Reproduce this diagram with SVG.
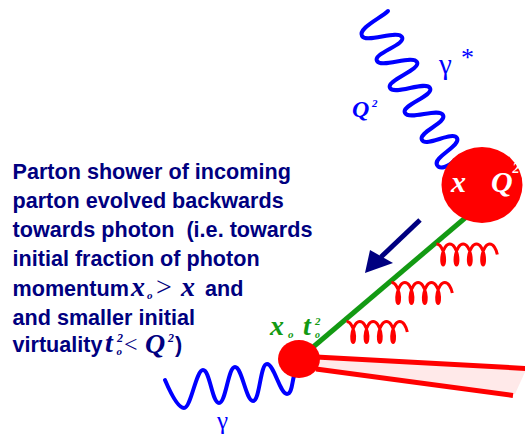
<svg xmlns="http://www.w3.org/2000/svg" width="525" height="443" viewBox="0 0 525 443">
<style>
.txt{font-family:"Liberation Sans",Arial,sans-serif;font-weight:bold;font-size:21.6px;fill:#000080}
.m{font-family:"Liberation Serif","Times New Roman",serif;font-weight:bold;font-style:italic}
.sym{font-family:"Liberation Serif","Times New Roman",serif}
.photon{fill:none;stroke:#0000ff;stroke-width:4;stroke-linecap:round;stroke-linejoin:round}
.gluon{fill:none;stroke:#ff0000;stroke-width:3}
.parton{stroke:#139a13;stroke-width:5}
.jet{stroke:#ff0000;stroke-width:5}
.blob{fill:#ff0000}
.blue{fill:#0000ff}
.green{fill:#139a13}
.white{fill:#ffffff}
.navy{fill:#000080}
</style>
<defs>
<path id="gl" class="gluon" d="M0,0
c1.655,0 3.302,1.131 4.635,3.075 c1.333,1.944 2.34,4.676 2.895,7.425 c0.555,2.749 0.658,5.481 0.435,7.425 c-0.223,1.944 -0.76,3.075 -1.305,3.075 c-0.545,0 -1.082,-1.131 -1.305,-3.075 c-0.223,-1.944 -0.12,-4.676 0.435,-7.425 c0.555,-2.749 1.562,-5.481 2.895,-7.425 c1.333,-1.944 2.98,-3.075 4.635,-3.075
c1.655,0 3.302,1.131 4.635,3.075 c1.333,1.944 2.34,4.676 2.895,7.425 c0.555,2.749 0.658,5.481 0.435,7.425 c-0.223,1.944 -0.76,3.075 -1.305,3.075 c-0.545,0 -1.082,-1.131 -1.305,-3.075 c-0.223,-1.944 -0.12,-4.676 0.435,-7.425 c0.555,-2.749 1.562,-5.481 2.895,-7.425 c1.333,-1.944 2.98,-3.075 4.635,-3.075
c1.655,0 3.302,1.131 4.635,3.075 c1.333,1.944 2.34,4.676 2.895,7.425 c0.555,2.749 0.658,5.481 0.435,7.425 c-0.223,1.944 -0.76,3.075 -1.305,3.075 c-0.545,0 -1.082,-1.131 -1.305,-3.075 c-0.223,-1.944 -0.12,-4.676 0.435,-7.425 c0.555,-2.749 1.562,-5.481 2.895,-7.425 c1.333,-1.944 2.98,-3.075 4.635,-3.075
c1.655,0 3.302,1.131 4.635,3.075 c1.333,1.944 2.34,4.676 2.895,7.425 c0.555,2.749 0.658,5.481 0.435,7.425 c-0.223,1.944 -0.76,3.075 -1.305,3.075 c-0.545,0 -1.082,-1.131 -1.305,-3.075 c-0.223,-1.944 -0.12,-4.676 0.435,-7.425 c0.555,-2.749 1.562,-5.481 2.895,-7.425 c1.333,-1.944 2.98,-3.075 4.635,-3.075
c1.655,0 3.302,1.131 4.635,3.075 c1.333,1.944 2.34,4.676 2.895,7.425"/>
</defs>
<rect width="525" height="443" fill="#ffffff"/>

<g id="connectors">
  <g id="jet">
    <polygon points="316,357 525,368 525,372 515,394 316,369" fill="#ffe9e9"/>
    <line class="jet" x1="316" y1="357" x2="527" y2="368.5"/>
    <line class="jet" x1="316" y1="369" x2="513" y2="395.5"/>
  </g>
  <line id="parton-line" class="parton" x1="299" y1="359" x2="478" y2="207"/>
  <g id="gluons">
    <use href="#gl" transform="translate(436.5,244)"/>
    <use href="#gl" transform="translate(391.5,282.5)"/>
    <use href="#gl" transform="translate(346.5,321.5)"/>
  </g>
  <g id="evolution-arrow">
    <line x1="420" y1="220" x2="381" y2="257" stroke="#000080" stroke-width="5"/>
    <polygon class="navy" points="365,273 370,250 393,263"/>
  </g>
  <path id="virtual-photon" class="photon" d="M388,11 C381,18 357.6,28.2 362,36 C366.4,43.8 397.6,29.2 402,37 C406.4,44.8 372.6,53.2 377,61 C381.4,68.8 412.6,54.2 417,62 C421.4,69.8 385.6,80.2 390,88 C394.4,95.8 425.6,80.2 430,88 C434.4,95.8 400.6,105.2 405,113 C409.4,120.8 438.6,107.2 443,115 C447.4,122.8 417.6,132.2 422,140 C426.4,147.8 452.6,130.2 457,138 C461.4,145.8 432.6,157.2 437,165 C440,170 448,167 455,160"/>
  <path id="real-photon" class="photon" d="M165,380 C171,394 178,408 184,408 C191,408 196,370 203,370 C210,370 212,403 219,403 C226,403 228,367 235,367 C242,367 246,401 253,401 C260,401 260,364 267,364 C274,364 280,394 287,394 C292,394 292,382 294,376"/>
</g>

<g id="hard-vertex">
  <ellipse class="blob" cx="482" cy="185" rx="40.5" ry="38"/>
  <text class="m white" x="451" y="192" font-size="30">x</text>
  <text class="m white" x="491" y="192" font-size="30">Q</text>
  <text class="m white" x="512.5" y="173" font-size="14">2</text>
</g>

<g id="soft-vertex">
  <ellipse class="blob" cx="299" cy="359" rx="21" ry="19"/>
  <text class="m green" x="270" y="335" font-size="28">x</text>
  <text class="m green" x="288" y="338" font-size="11">o</text>
  <text class="m green" x="303" y="335" font-size="28">t</text>
  <text class="m green" x="315" y="325" font-size="11">2</text>
  <text class="m green" x="315" y="338" font-size="10">o</text>
</g>

<g id="photon-labels">
  <text class="sym blue" x="439" y="74" font-size="29">γ</text>
  <text class="sym blue" x="461" y="66" font-size="26">*</text>
  <text class="m blue" x="352" y="117" font-size="24">Q</text>
  <text class="m blue" x="372" y="107" font-size="11">2</text>
  <text class="sym blue" x="217" y="429" font-size="25">γ</text>
</g>

<g id="description">
  <text class="txt" x="12.5" y="179">Parton shower of incoming</text>
  <text class="txt" x="12.5" y="208">parton evolved backwards</text>
  <text class="txt" x="12.5" y="237" xml:space="preserve">towards photon  (i.e. towards</text>
  <text class="txt" x="12.5" y="266">initial fraction of photon</text>
  <text class="txt" x="12.5" y="296">momentum</text>
  <text class="m navy" x="131" y="296" font-size="28">x</text>
  <text class="m navy" x="147" y="299" font-size="11">o</text>
  <text class="sym navy" x="156" y="296" font-size="28">&gt;</text>
  <text class="m navy" x="181" y="296" font-size="28">x</text>
  <text class="txt" x="205" y="296">and</text>
  <text class="txt" x="12.5" y="325">and smaller initial</text>
  <text class="txt" x="12.5" y="352">virtuality</text>
  <text class="m navy" x="105" y="352" font-size="28">t</text>
  <text class="m navy" x="116.5" y="355" font-size="11">o</text>
  <text class="m navy" x="117" y="342" font-size="12">2</text>
  <text class="sym navy" x="124" y="352" font-size="24">&lt;</text>
  <text class="m navy" x="145" y="353" font-size="28">Q</text>
  <text class="m navy" x="168" y="342" font-size="12">2</text>
  <text class="txt" x="175" y="352">)</text>
</g>
</svg>
